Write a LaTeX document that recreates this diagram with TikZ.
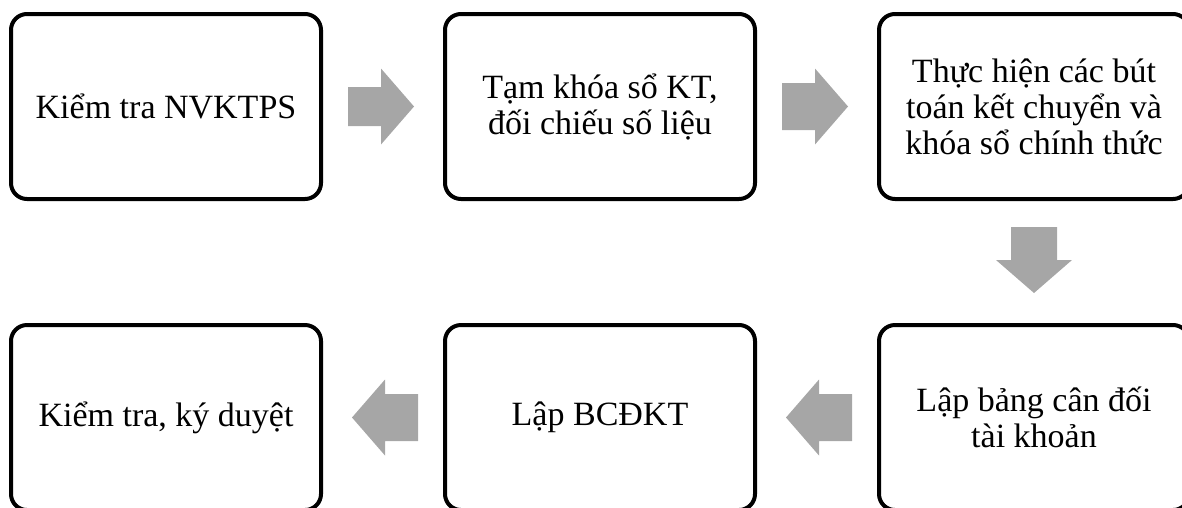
\documentclass[tikz,border=0pt]{standalone}
\usepackage{fontspec}
\setmainfont{Liberation Serif}
\usetikzlibrary{calc}
\definecolor{arrowgray}{RGB}{166,166,166}
\newcommand\flowarrow[4]{%
  \begin{scope}[shift={($(#1)!0.5!(#2)$)}, rotate=#3]
    \fill[arrowgray] (-35,-#4) -- (-2,-#4) -- (-2,-38) -- (31,0) -- (-2,38) -- (-2,#4) -- (-35,#4) -- cycle;
  \end{scope}}
\begin{document}
\begin{tikzpicture}[x=1pt,y=-1pt,
  flowbox/.style={draw=black, line width=4pt, rounded corners=16pt,
    minimum width=310pt, minimum height=185pt, align=center,
    font=\fontsize{34}{36}\selectfont, inner sep=0pt, fill=white}]
\useasboundingbox (0,0) rectangle (1182,507);
\clip (0,0) rectangle (1182,507);
\node[flowbox] (b1) at (166,106.5) {Kiểm tra NVKTPS};
\node[flowbox] (b2) at (600,106.5) {Tạm khóa sổ KT,\\đối chiếu số liệu};
\node[flowbox] (b3) at (1034,106.5) {Thực hiện các bút\\toán kết chuyển và\\khóa sổ chính thức};
\node[flowbox] (b6) at (1034,417.5) {Lập bảng cân đối\\tài khoản};
\node[flowbox] (b5) at (600,417.5) {Lập BCĐKT};
\node[flowbox] (b4) at (166,417.5) {Kiểm tra, ký duyệt};
\flowarrow{b1.east}{b2.west}{0}{19.5}
\flowarrow{b2.east}{b3.west}{0}{23.5}
\flowarrow{b3.south}{b6.north}{-90}{23}
\flowarrow{b6.west}{b5.east}{180}{23.5}
\flowarrow{b5.west}{b4.east}{180}{23.5}
\end{tikzpicture}
\end{document}
